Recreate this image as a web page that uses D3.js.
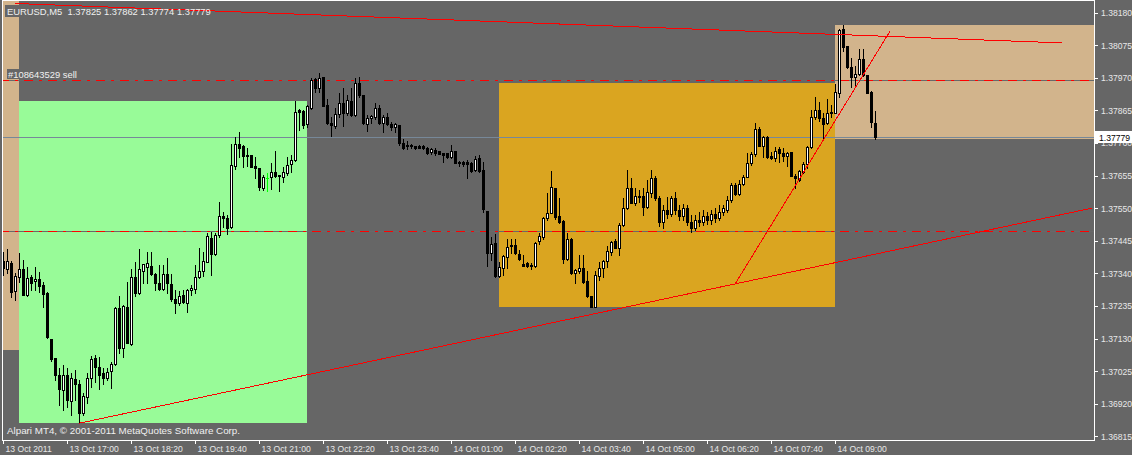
<!DOCTYPE html>
<html><head><meta charset="utf-8">
<script src="https://cdn.jsdelivr.net/npm/d3@7"></script>
<style>
html,body{margin:0;padding:0;background:#666666;overflow:hidden;}
svg{display:block;}
text{font-family:"Liberation Sans",Arial,sans-serif;white-space:pre;}
</style></head><body>
<svg id="c" width="1132" height="455"></svg>
<script>
// ---- EURUSD M5 bars, 13 Oct 2011 15:40 onward (one value per 5-minute bar) ----
const openP = [
1.37380,1.37354,1.37373,1.37283,1.37329,1.37354,1.37270,1.37328,1.37315,1.37322,
1.37302,1.37277,1.37129,1.37068,1.37014,1.36964,1.37012,1.36929,1.36998,1.36983,
1.36889,1.36942,1.37002,1.37066,1.37039,1.37018,1.37002,1.37026,1.37048,1.37227,
1.37101,1.37232,1.37112,1.37329,1.37275,1.37347,1.37360,1.37363,1.37338,1.37309,
1.37288,1.37338,1.37306,1.37257,1.37243,1.37270,1.37245,1.37286,1.37290,1.37327,
1.37346,1.37378,1.37454,1.37401,1.37463,1.37524,1.37518,1.37488,1.37685,1.37758,
1.37750,1.37721,1.37721,1.37685,1.37678,1.37614,1.37647,1.37649,1.37665,1.37656,
1.37651,1.37662,1.37691,1.37705,1.37866,1.37863,1.37821,1.37873,1.37965,1.37936,
1.37971,1.37882,1.37825,1.37815,1.37853,1.37887,1.37855,1.37896,1.37850,1.37954,
1.37914,1.37820,1.37839,1.37844,1.37871,1.37825,1.37844,1.37821,1.37812,1.37817,
1.37760,1.37753,1.37753,1.37750,1.37750,1.37750,1.37745,1.37730,1.37737,1.37733,
1.37726,1.37727,1.37713,1.37734,1.37699,1.37699,1.37700,1.37694,1.37673,1.37710,
1.37672,1.37541,1.37404,1.37438,1.37331,1.37356,1.37393,1.37431,1.37430,1.37402,
1.37370,1.37372,1.37366,1.37363,1.37444,1.37456,1.37517,1.37535,1.37614,1.37524,
1.37508,1.37385,1.37452,1.37340,1.37348,1.37356,1.37315,1.37267,1.37232,1.37331,
1.37356,1.37380,1.37409,1.37445,1.37423,1.37495,1.37549,1.37614,1.37567,1.37589,
1.37589,1.37554,1.37599,1.37646,1.37582,1.37505,1.37544,1.37531,1.37582,1.37544,
1.37524,1.37550,1.37505,1.37486,1.37511,1.37505,1.37524,1.37511,1.37531,1.37518,
1.37537,1.37544,1.37576,1.37624,1.37595,1.37627,1.37651,1.37696,1.37723,1.37804,
1.37750,1.37778,1.37718,1.37710,1.37739,1.37726,1.37718,1.37731,1.37653,1.37642,
1.37667,1.37692,1.37746,1.37842,1.37866,1.37839,1.37823,1.37859,1.37857,1.37921,
1.38126,1.38072,1.38005,1.37971,1.37982,1.38029,1.37978,1.37925,1.37825];
const highP = [
1.37409,1.37418,1.37379,1.37341,1.37406,1.37383,1.37361,1.37334,1.37361,1.37345,
1.37313,1.37280,1.37129,1.37068,1.37034,1.37044,1.37034,1.37018,1.37028,1.36996,
1.36953,1.37018,1.37073,1.37077,1.37071,1.37034,1.37034,1.37055,1.37232,1.37267,
1.37238,1.37313,1.37353,1.37377,1.37417,1.37370,1.37407,1.37407,1.37340,1.37366,
1.37366,1.37388,1.37337,1.37286,1.37283,1.37286,1.37288,1.37302,1.37366,1.37423,
1.37409,1.37469,1.37474,1.37469,1.37570,1.37538,1.37528,1.37758,1.37778,1.37796,
1.37753,1.37742,1.37722,1.37715,1.37680,1.37656,1.37662,1.37694,1.37735,1.37657,
1.37683,1.37715,1.37721,1.37895,1.37868,1.37866,1.37882,1.37968,1.37968,1.37986,
1.37973,1.37900,1.37842,1.37871,1.37921,1.37936,1.37914,1.37936,1.37968,1.37973,
1.37915,1.37850,1.37850,1.37889,1.37882,1.37850,1.37855,1.37828,1.37825,1.37818,
1.37771,1.37766,1.37756,1.37751,1.37753,1.37753,1.37746,1.37745,1.37742,1.37734,
1.37727,1.37728,1.37753,1.37735,1.37701,1.37703,1.37705,1.37699,1.37717,1.37721,
1.37699,1.37542,1.37458,1.37466,1.37377,1.37399,1.37452,1.37452,1.37452,1.37415,
1.37399,1.37377,1.37372,1.37442,1.37469,1.37520,1.37599,1.37669,1.37616,1.37581,
1.37511,1.37470,1.37453,1.37353,1.37399,1.37399,1.37348,1.37268,1.37348,1.37377,
1.37383,1.37428,1.37445,1.37452,1.37501,1.37581,1.37672,1.37646,1.37614,1.37608,
1.37614,1.37642,1.37672,1.37653,1.37589,1.37560,1.37586,1.37589,1.37603,1.37560,
1.37563,1.37560,1.37528,1.37528,1.37537,1.37544,1.37537,1.37544,1.37550,1.37560,
1.37560,1.37589,1.37631,1.37630,1.37642,1.37656,1.37726,1.37731,1.37823,1.37810,
1.37782,1.37782,1.37731,1.37747,1.37746,1.37742,1.37731,1.37732,1.37660,1.37672,
1.37698,1.37750,1.37866,1.37907,1.37892,1.37857,1.37903,1.37882,1.37949,1.38127,
1.38140,1.38072,1.38035,1.38007,1.38061,1.38064,1.37979,1.37926,1.37862];
const lowP = [
1.37334,1.37341,1.37264,1.37254,1.37313,1.37269,1.37267,1.37286,1.37286,1.37280,
1.37230,1.37131,1.37058,1.36996,1.36916,1.36899,1.36910,1.36883,1.36932,1.36857,
1.36883,1.36921,1.36974,1.36991,1.36966,1.36985,1.36996,1.36969,1.37044,1.37082,
1.37071,1.37114,1.37109,1.37267,1.37272,1.37309,1.37308,1.37334,1.37286,1.37286,
1.37286,1.37275,1.37251,1.37211,1.37238,1.37245,1.37216,1.37270,1.37275,1.37324,
1.37331,1.37377,1.37334,1.37399,1.37458,1.37490,1.37466,1.37485,1.37675,1.37715,
1.37683,1.37685,1.37681,1.37646,1.37608,1.37608,1.37606,1.37610,1.37651,1.37606,
1.37635,1.37656,1.37667,1.37702,1.37801,1.37807,1.37812,1.37868,1.37925,1.37925,
1.37879,1.37821,1.37782,1.37807,1.37844,1.37815,1.37850,1.37848,1.37848,1.37907,
1.37822,1.37799,1.37823,1.37836,1.37822,1.37796,1.37817,1.37801,1.37796,1.37753,
1.37739,1.37739,1.37742,1.37741,1.37743,1.37739,1.37724,1.37724,1.37721,1.37723,
1.37698,1.37712,1.37711,1.37694,1.37685,1.37685,1.37646,1.37667,1.37669,1.37667,
1.37538,1.37363,1.37383,1.37328,1.37329,1.37334,1.37356,1.37404,1.37402,1.37383,
1.37363,1.37361,1.37353,1.37361,1.37434,1.37452,1.37511,1.37533,1.37514,1.37501,
1.37374,1.37383,1.37339,1.37309,1.37342,1.37309,1.37264,1.37231,1.37231,1.37318,
1.37329,1.37361,1.37399,1.37420,1.37399,1.37492,1.37546,1.37565,1.37560,1.37570,
1.37528,1.37549,1.37586,1.37576,1.37492,1.37486,1.37518,1.37524,1.37531,1.37511,
1.37511,1.37495,1.37473,1.37479,1.37492,1.37495,1.37498,1.37498,1.37505,1.37511,
1.37528,1.37537,1.37569,1.37592,1.37592,1.37624,1.37649,1.37689,1.37718,1.37750,
1.37713,1.37710,1.37707,1.37702,1.37699,1.37702,1.37685,1.37653,1.37614,1.37638,
1.37664,1.37678,1.37742,1.37836,1.37831,1.37775,1.37821,1.37844,1.37855,1.37907,
1.38057,1.38000,1.37941,1.37946,1.37978,1.37975,1.37920,1.37810,1.37774];
const closeP = [
1.37357,1.37379,1.37280,1.37331,1.37354,1.37270,1.37325,1.37308,1.37322,1.37299,
1.37272,1.37134,1.37064,1.37012,1.36966,1.37014,1.36932,1.37002,1.36985,1.36889,
1.36945,1.37002,1.37063,1.37037,1.37012,1.37002,1.37023,1.37048,1.37227,1.37101,
1.37234,1.37116,1.37329,1.37275,1.37353,1.37369,1.37372,1.37337,1.37308,1.37289,
1.37338,1.37309,1.37256,1.37243,1.37267,1.37248,1.37286,1.37292,1.37329,1.37347,
1.37379,1.37460,1.37401,1.37463,1.37524,1.37517,1.37487,1.37689,1.37758,1.37742,
1.37718,1.37718,1.37683,1.37678,1.37617,1.37649,1.37647,1.37665,1.37654,1.37653,
1.37666,1.37689,1.37705,1.37858,1.37860,1.37817,1.37879,1.37962,1.37936,1.37968,
1.37880,1.37823,1.37817,1.37853,1.37887,1.37855,1.37898,1.37850,1.37952,1.37914,
1.37823,1.37839,1.37846,1.37871,1.37825,1.37844,1.37820,1.37812,1.37821,1.37760,
1.37742,1.37750,1.37750,1.37742,1.37744,1.37745,1.37728,1.37739,1.37728,1.37724,
1.37721,1.37713,1.37734,1.37695,1.37695,1.37692,1.37693,1.37670,1.37707,1.37670,
1.37547,1.37404,1.37434,1.37331,1.37359,1.37395,1.37425,1.37428,1.37404,1.37386,
1.37364,1.37363,1.37363,1.37438,1.37460,1.37517,1.37535,1.37617,1.37522,1.37506,
1.37385,1.37452,1.37340,1.37350,1.37356,1.37313,1.37267,1.37232,1.37334,1.37356,
1.37380,1.37413,1.37442,1.37423,1.37495,1.37549,1.37614,1.37567,1.37589,1.37586,
1.37552,1.37603,1.37646,1.37581,1.37505,1.37544,1.37531,1.37582,1.37544,1.37524,
1.37550,1.37505,1.37486,1.37511,1.37505,1.37524,1.37511,1.37531,1.37518,1.37537,
1.37550,1.37576,1.37624,1.37595,1.37627,1.37651,1.37696,1.37723,1.37804,1.37750,
1.37778,1.37715,1.37710,1.37735,1.37726,1.37718,1.37728,1.37653,1.37646,1.37670,
1.37692,1.37747,1.37842,1.37866,1.37839,1.37821,1.37855,1.37856,1.37925,1.38123,
1.38070,1.38005,1.37971,1.37982,1.38029,1.37978,1.37921,1.37828,1.37779];

// ---- axis ticks ----
const priceTicks = [1.38180,1.38075,1.37970,1.37865,1.37760,1.37655,1.37550,1.37445,1.37340,1.37235,1.37130,1.37025,1.36920,1.36815];
const timeTickBars = [0,16,32,48,64,80,96,112,128,144,160,176,192,208];
const timeTickLabels = ["13 Oct 2011","13 Oct 17:00","13 Oct 18:20","13 Oct 19:40","13 Oct 21:00","13 Oct 22:20","13 Oct 23:40","14 Oct 01:00","14 Oct 02:20","14 Oct 03:40","14 Oct 05:00","14 Oct 06:20","14 Oct 07:40","14 Oct 09:00"];

// ---- chart objects (bar index / price) ----
const rectT0 = [-10, 4, 124, 208];
const rectT1 = [4, 76, 208, 300];
const rectPLow = [1.37093, 1.36857, 1.37231, 1.37774];
const rectPHigh = [1.39000, 1.37895, 1.37953, 1.38140];
const rectColors = ["#D2B48C", "#98FB98", "#DAA520", "#D2B48C"];

const trendT0 = [3, 19, 183];
const trendP0 = [1.38209, 1.36857, 1.37305];
const trendT1 = [264.75, 272.25, 221.75];
const trendP1 = [1.38082, 1.37550, 1.38120];

const orderPrice = 1.37962;     // #108643529 sell
const levelPrice = 1.37476;
const symbolName = "EURUSD,M5";
const orderLabel = "#108643529 sell";
const copyright = "Alpari MT4, \u00A9 2001-2011 MetaQuotes Software Corp.";

// ---- drawing ----
const svg = d3.select("#c");
const W = 1132, H = 455;
const x = d3.scaleLinear().domain([0, 272.25]).range([3, 1092]);
const y = d3.scaleLinear().domain([1.36815, 1.38180]).range([436.3, 12.5]);
const fmt = d3.format(".5f");
const last = closeP.length - 1;

svg.append("rect").attr("width", W).attr("height", H).attr("fill", "#666666");

const defs = svg.append("defs");
defs.append("clipPath").attr("id", "plot").append("rect")
  .attr("x", 3).attr("y", 1).attr("width", 1091).attr("height", 439);

const plot = svg.append("g").attr("clip-path", "url(#plot)").attr("shape-rendering", "crispEdges");

// rectangles
rectT0.forEach((t0, k) => {
  const x0 = Math.round(x(t0)), x1 = Math.round(x(rectT1[k]));
  const y0 = Math.round(y(rectPHigh[k])), y1 = Math.round(y(rectPLow[k]));
  plot.append("rect").attr("x", x0).attr("y", y0).attr("width", x1 - x0).attr("height", y1 - y0)
    .attr("fill", rectColors[k]);
});

// horizontal lines
function hline(p, color, dash) {
  const yy = Math.round(y(p)) + 0.5;
  const l = plot.append("line").attr("x1", 0).attr("x2", W).attr("y1", yy).attr("y2", yy)
    .attr("stroke", color).attr("stroke-width", 1);
  if (dash) l.attr("stroke-dasharray", dash);
}
hline(orderPrice, "#696969");
hline(levelPrice, "#696969");
hline(closeP[last], "#778899");
hline(orderPrice, "#FF0000", "9,6,3,6");
hline(levelPrice, "#FF0000", "9,6,3,6");

// candles
const candles = plot.append("g");
d3.range(closeP.length).forEach(i => {
  const cx = Math.round(x(i));
  const yh = Math.round(y(highP[i])), yl = Math.round(y(lowP[i]));
  const yo = Math.round(y(openP[i])), yc = Math.round(y(closeP[i]));
  const doji = openP[i] === closeP[i];
  const col = doji ? "#00FF00" : "#000000";
  candles.append("rect").attr("x", cx).attr("y", yh).attr("width", 1).attr("height", yl - yh + 1).attr("fill", col);
  if (doji) {
    candles.append("rect").attr("x", cx - 1).attr("y", yo).attr("width", 3).attr("height", 1).attr("fill", col);
  } else {
    const top = Math.min(yo, yc), bot = Math.max(yo, yc);
    candles.append("rect").attr("x", cx - 1).attr("y", top).attr("width", 3).attr("height", Math.max(1, bot - top + 1)).attr("fill", "#000");
    if (closeP[i] > openP[i] && bot - top >= 2) {
      candles.append("rect").attr("x", cx).attr("y", top + 1).attr("width", 1).attr("height", bot - top - 1).attr("fill", "#FFFFFF");
    }
  }
});

// header label background + text
plot.append("rect").attr("x", 5).attr("y", 5).attr("width", 205).attr("height", 12).attr("fill", "#666666");
plot.append("rect").attr("x", 7).attr("y", 69).attr("width", 70).attr("height", 10).attr("fill", "#666666");

// trend lines
trendT0.forEach((t0, k) => {
  plot.append("line")
    .attr("x1", x(t0)).attr("y1", y(trendP0[k]))
    .attr("x2", x(trendT1[k])).attr("y2", y(trendP1[k]))
    .attr("stroke", "#FF0000").attr("stroke-width", 1);
});

const txt = svg.append("g").attr("fill", "#F0F0F0");
txt.append("text").attr("x", 7).attr("y", 15).attr("font-size", "9.4px")
  .text(symbolName + "  " + fmt(openP[last]) + " " + fmt(highP[last]) + " " + fmt(lowP[last]) + " " + fmt(closeP[last]));
txt.append("text").attr("x", 8).attr("y", 78).attr("font-size", "9.4px").text(orderLabel);
txt.append("text").attr("x", 7).attr("y", 434).attr("font-size", "9.8px").text(copyright);

// frame
const frame = svg.append("g").attr("stroke", "#FFFFFF").attr("shape-rendering", "crispEdges");
frame.append("line").attr("x1", 2.5).attr("x2", 2.5).attr("y1", 0).attr("y2", 441);
frame.append("line").attr("x1", 2).attr("x2", 1095).attr("y1", 0.5).attr("y2", 0.5);

// price axis
const yAxis = d3.axisRight(y).tickValues(priceTicks).tickFormat(fmt).tickSize(4).tickSizeOuter(0).tickPadding(3);
const ya = svg.append("g").attr("transform", "translate(1094,0)").call(yAxis);
ya.select(".domain").remove();
ya.selectAll(".tick line").attr("stroke", "#FFFFFF").attr("shape-rendering", "crispEdges");
ya.selectAll(".tick text").attr("fill", "#E8E8E8").attr("font-family", "Liberation Sans, Arial, sans-serif")
  .attr("font-size", "8.6px").attr("dy", "0.34em");
svg.append("line").attr("x1", 1094.5).attr("x2", 1094.5).attr("y1", 0).attr("y2", 441)
  .attr("stroke", "#FFFFFF").attr("shape-rendering", "crispEdges");

// bid price label
const yb = Math.round(y(closeP[last]));
svg.append("rect").attr("x", 1095).attr("y", yb - 6).attr("width", 37).attr("height", 12)
  .attr("fill", "#FFFFFF").attr("shape-rendering", "crispEdges");
svg.append("text").attr("x", 1099).attr("y", yb + 3.5).attr("font-size", "8.6px").attr("fill", "#000000")
  .text(fmt(closeP[last]));

// time axis
const xAxis = d3.axisBottom(x).tickValues(timeTickBars).tickFormat((d, i) => timeTickLabels[i]).tickSize(4).tickSizeOuter(0);
const xa = svg.append("g").attr("transform", "translate(0,440)").call(xAxis);
xa.select(".domain").remove();
xa.selectAll(".tick line").attr("stroke", "#FFFFFF").attr("shape-rendering", "crispEdges");
xa.selectAll(".tick text").attr("fill", "#E8E8E8").attr("font-family", "Liberation Sans, Arial, sans-serif")
  .attr("font-size", "8.6px").attr("text-anchor", "start").attr("x", 2).attr("y", 12).attr("dy", 0);
svg.append("line").attr("x1", 2).attr("x2", 1095).attr("y1", 440.5).attr("y2", 440.5)
  .attr("stroke", "#FFFFFF").attr("shape-rendering", "crispEdges");
</script>
</body></html>
